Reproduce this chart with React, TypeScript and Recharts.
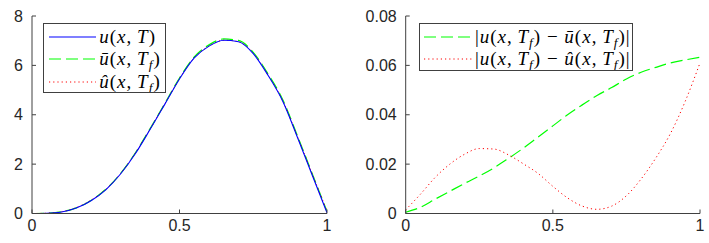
import React from 'react';
import { LineChart, Line, XAxis, YAxis, Legend } from 'recharts';

// ---------- data ----------
const xValues = [0, 0.05, 0.1, 0.15, 0.2, 0.25, 0.3, 0.35, 0.4, 0.45, 0.5, 0.55, 0.6, 0.65, 0.7, 0.75, 0.8, 0.85, 0.9, 0.95, 1];

const uValues = [0, 0.01, 0.06, 0.22, 0.52, 0.96, 1.6, 2.42, 3.4, 4.42, 5.45, 6.3, 6.78, 7.02, 6.96, 6.48, 5.6, 4.55, 3.08, 1.55, 0.03];
const uBarValues = [0, 0.01, 0.07, 0.23, 0.53, 0.98, 1.62, 2.45, 3.43, 4.45, 5.49, 6.34, 6.83, 7.07, 7.01, 6.53, 5.66, 4.61, 3.14, 1.61, 0.09];
const uHatValues = [0, 0.012, 0.07, 0.24, 0.54, 0.98, 1.62, 2.44, 3.42, 4.44, 5.46, 6.31, 6.78, 7.02, 6.96, 6.49, 5.61, 4.57, 3.11, 1.6, 0.09];

const errBarValues = [0.0005, 0.0025, 0.0058, 0.009, 0.0122, 0.0152, 0.0185, 0.0224, 0.0265, 0.031, 0.0355, 0.04, 0.044, 0.0478, 0.051, 0.0545, 0.0572, 0.0592, 0.061, 0.0622, 0.0633];
const errHatValues = [0.0015, 0.0078, 0.0146, 0.02, 0.024, 0.0263, 0.0261, 0.0237, 0.0201, 0.0162, 0.011, 0.0063, 0.003, 0.0017, 0.003, 0.0072, 0.014, 0.0225, 0.0325, 0.0455, 0.061];

const xTicks = [0, 0.5, 1];
const xTickLabels = ['0', '0.5', '1'];
const leftYTicks = [0, 2, 4, 6, 8];
const leftYTickLabels = ['0', '2', '4', '6', '8'];
const rightYTicks = [0, 0.02, 0.04, 0.06, 0.08];
const rightYTickLabels = ['0', '0.02', '0.04', '0.06', '0.08'];

const leftData = xValues.map((x, i) => ({ x, u: uValues[i], ubar: uBarValues[i], uhat: uHatValues[i] }));
const rightData = xValues.map((x, i) => ({ x, ebar: errBarValues[i], ehat: errHatValues[i] }));

// ---------- styles ----------
const BLUE = '#0000ff';
const GREEN = '#00ff00';
const RED = '#ff0000';
const AXIS = '#404040';
const GREEN_DASH = '12 5';
const RED_DOT = '1.2 3';
const tickStyle = { fontFamily: '"Liberation Sans", Arial, Helvetica, sans-serif', fontSize: 16, fill: '#262626' };
const mathFont: React.CSSProperties = { fontFamily: '"Liberation Serif", "Times New Roman", serif', fontSize: 19, letterSpacing: 1, whiteSpace: 'nowrap', lineHeight: 1, color: '#000' };

const labelFrom = (ticks: number[], labels: string[]) => (v: number) => {
  const i = ticks.findIndex((t) => Math.abs(t - v) < 1e-9);
  return i >= 0 ? labels[i] : String(v);
};

const Empty = () => <g />;

const Sub = ({ children }: { children: React.ReactNode }) => (
  <sub style={{ fontSize: '0.7em', verticalAlign: '-0.3em', lineHeight: 0 }}>{children}</sub>
);

const I = ({ children }: { children: React.ReactNode }) => <i>{children}</i>;

const ULabel = () => (
  <span style={mathFont}><I>u</I>(<I>x</I>,{'\u2009'}<I>T</I>)</span>
);
const UBarLabel = () => (
  <span style={mathFont}><I>{'\u016B'}</I>(<I>x</I>,{'\u2009'}<I>T</I><Sub><I>f</I></Sub>)</span>
);
const UHatLabel = () => (
  <span style={mathFont}><I>{'\u00FB'}</I>(<I>x</I>,{'\u2009'}<I>T</I><Sub><I>f</I></Sub>)</span>
);
const ErrBarLabel = () => (
  <span style={mathFont}>|<I>u</I>(<I>x</I>,{'\u2009'}<I>T</I><Sub><I>f</I></Sub>) {'\u2212'} <I>{'\u016B'}</I>(<I>x</I>,{'\u2009'}<I>T</I><Sub><I>f</I></Sub>)|</span>
);
const ErrHatLabel = () => (
  <span style={mathFont}>|<I>u</I>(<I>x</I>,{'\u2009'}<I>T</I><Sub><I>f</I></Sub>) {'\u2212'} <I>{'\u00FB'}</I>(<I>x</I>,{'\u2009'}<I>T</I><Sub><I>f</I></Sub>)|</span>
);

type Entry = { color: string; dash?: string; label: React.ReactNode };

const LegendBox = ({ entries, w, h, rowH, padTop, sampleLeft, sampleW, gap }: { entries: Entry[]; w: number; h: number; rowH: number; padTop: number; sampleLeft: number; sampleW: number; gap: number }) => (
  <div style={{ width: w, height: h, boxSizing: 'border-box', border: `1px solid ${AXIS}`, background: '#fff', paddingTop: padTop, overflow: 'hidden' }}>
    {entries.map((e, i) => (
      <div key={i} style={{ display: 'flex', alignItems: 'center', height: rowH }}>
        <svg width={sampleW} height={10} style={{ marginLeft: sampleLeft, flex: 'none', display: 'block' }}>
          <line x1={0} y1={5} x2={sampleW} y2={5} stroke={e.color} strokeWidth={e.dash === RED_DOT ? 1 : 1.2} strokeDasharray={e.dash} />
        </svg>
        <div style={{ marginLeft: gap }}>{e.label}</div>
      </div>
    ))}
  </div>
);

const leftEntries: Entry[] = [
  { color: BLUE, label: <ULabel /> },
  { color: GREEN, dash: GREEN_DASH, label: <UBarLabel /> },
  { color: RED, dash: RED_DOT, label: <UHatLabel /> },
];
const rightEntries: Entry[] = [
  { color: GREEN, dash: GREEN_DASH, label: <ErrBarLabel /> },
  { color: RED, dash: RED_DOT, label: <ErrHatLabel /> },
];

export default function App() {
  return (
    <div style={{ position: 'absolute', left: 0, top: 0, width: 709, height: 243, background: '#fff' }}>
      <div style={{ position: 'absolute', left: 0, top: 0 }}>
        <LineChart width={340} height={243} data={leftData} margin={{ top: 16, right: 13, bottom: 0, left: 0 }}>
          <XAxis dataKey="x" type="number" domain={[0, 1]} ticks={xTicks} interval={0} allowDataOverflow
            height={29.5} tickSize={-4} tickMargin={10.5} stroke={AXIS} tick={tickStyle}
            tickFormatter={labelFrom(xTicks, xTickLabels)} />
          <XAxis xAxisId="top" orientation="top" dataKey="x" type="number" domain={[0, 1]} ticks={xTicks} interval={0}
            height={0} tickSize={-4} stroke={AXIS} tick={Empty} allowDataOverflow />
          <YAxis type="number" domain={[0, 8]} ticks={leftYTicks} interval={0} allowDataOverflow
            width={32} tickSize={-4} tickMargin={13} stroke={AXIS} tick={tickStyle}
            tickFormatter={labelFrom(leftYTicks, leftYTickLabels)} />
          <YAxis yAxisId="right" orientation="right" type="number" domain={[0, 8]} ticks={leftYTicks} interval={0}
            width={0} tickSize={-4} stroke={AXIS} tick={Empty} allowDataOverflow />
          <Line dataKey="ubar" type="monotone" stroke={GREEN} strokeWidth={1.2} strokeDasharray={GREEN_DASH} dot={false} isAnimationActive={false} />
          <Line dataKey="uhat" type="monotone" stroke={RED} strokeWidth={1} strokeDasharray={RED_DOT} dot={false} isAnimationActive={false} />
          <Line dataKey="u" type="monotone" stroke={BLUE} strokeWidth={1.1} dot={false} isAnimationActive={false} />
          <Legend layout="horizontal" verticalAlign="middle" align="center"
            wrapperStyle={{ position: 'absolute', left: 42.7, top: 23.3, width: 123, height: 70 }}
            content={() => <LegendBox entries={leftEntries} w={123} h={70} rowH={22.5} padTop={1} sampleLeft={5.6} sampleW={47} gap={3} />} />
        </LineChart>
      </div>
      <div style={{ position: 'absolute', left: 360, top: 0 }}>
        <LineChart width={349} height={243} data={rightData} margin={{ top: 16, right: 9, bottom: 0, left: 0 }}>
          <XAxis dataKey="x" type="number" domain={[0, 1]} ticks={xTicks} interval={0} allowDataOverflow
            height={29.5} tickSize={-4} tickMargin={10.5} stroke={AXIS} tick={tickStyle}
            tickFormatter={labelFrom(xTicks, xTickLabels)} />
          <XAxis xAxisId="top" orientation="top" dataKey="x" type="number" domain={[0, 1]} ticks={xTicks} interval={0}
            height={0} tickSize={-4} stroke={AXIS} tick={Empty} allowDataOverflow />
          <YAxis type="number" domain={[0, 0.08]} ticks={rightYTicks} interval={0} allowDataOverflow
            width={45.7} tickSize={-4} tickMargin={13} stroke={AXIS} tick={tickStyle}
            tickFormatter={labelFrom(rightYTicks, rightYTickLabels)} />
          <YAxis yAxisId="right" orientation="right" type="number" domain={[0, 0.08]} ticks={rightYTicks} interval={0}
            width={0} tickSize={-4} stroke={AXIS} tick={Empty} allowDataOverflow />
          <Line dataKey="ebar" type="monotone" stroke={GREEN} strokeWidth={1.2} strokeDasharray={GREEN_DASH} dot={false} isAnimationActive={false} />
          <Line dataKey="ehat" type="monotone" stroke={RED} strokeWidth={1} strokeDasharray={RED_DOT} dot={false} isAnimationActive={false} />
          <Legend layout="horizontal" verticalAlign="middle" align="center"
            wrapperStyle={{ position: 'absolute', left: 59.3, top: 23.3, width: 214, height: 47.7 }}
            content={() => <LegendBox entries={rightEntries} w={214} h={47.7} rowH={22.6} padTop={1.1} sampleLeft={3.6} sampleW={48} gap={3} />} />
        </LineChart>
      </div>
    </div>
  );
}
